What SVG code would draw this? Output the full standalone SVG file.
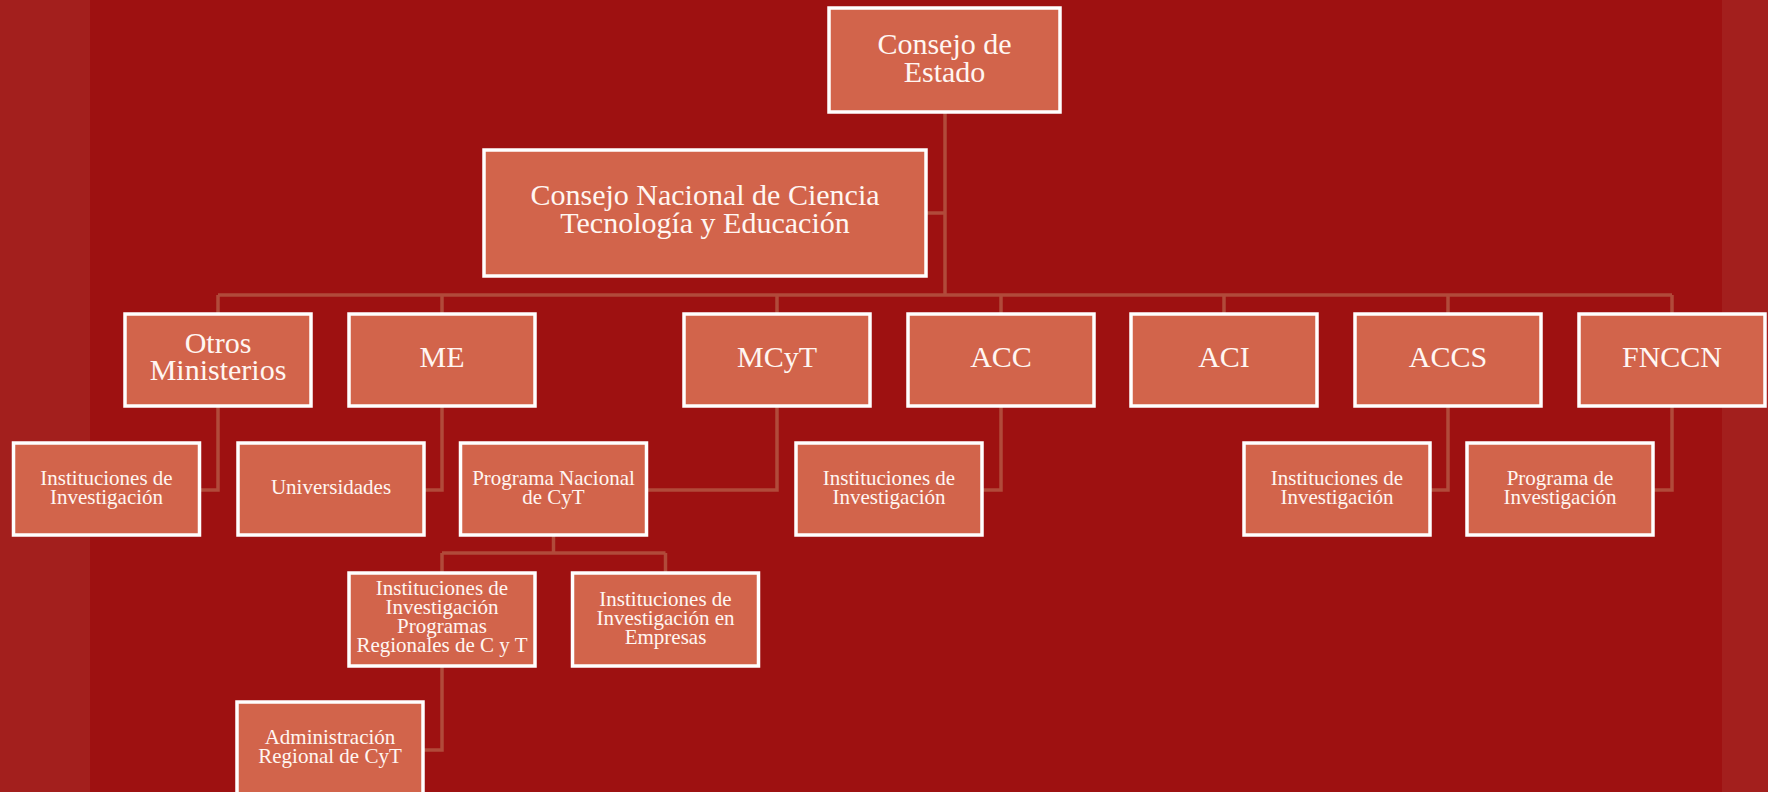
<svg xmlns="http://www.w3.org/2000/svg" width="1768" height="792" viewBox="0 0 1768 792">
<style>
.box{fill:#D2644B;stroke:#FFFFFF;stroke-width:3.5}
.t{font-family:"Liberation Serif","DejaVu Serif",serif;fill:#FFF6F2;text-anchor:middle}
.big{font-size:30px}
.sm{font-size:21px}
.c{fill:none;stroke:#B14A3A;stroke-width:3.5}
</style>
<rect x="0" y="0" width="1768" height="792" fill="#9E1111"/>
<rect x="0" y="0" width="90" height="792" fill="#A31F1D"/>
<rect x="1722" y="0" width="46" height="792" fill="#A31F1D"/>
<g id="connectors">
<path class="c" d="M945,113V295M926,213H945M218,295H1672M218,295V314M442,295V314M777,295V314M1001,295V314M1224,295V314M1448,295V314M1672,295V314"/>
<path class="c" d="M218,406V490H200M442,406V490H424M777,406V490H647M1001,406V490H982M1448,406V490H1430M1672,406V490H1653"/>
<path class="c" d="M553.5,536V553M442,553H665.5M442,553V573M665.5,553V573M442,666V750H423"/>
</g>
<g id="n-consejo-estado"><rect class="box" x="829" y="8" width="231" height="104"/><text class="t big" x="944.5" y="54">Consejo de</text><text class="t big" x="944.5" y="82">Estado</text></g>
<g id="n-cnct"><rect class="box" x="484" y="150" width="442" height="126"/><text class="t big" x="705" y="205">Consejo Nacional de Ciencia</text><text class="t big" x="705" y="233">Tecnología y Educación</text></g>
<g id="n-otros"><rect class="box" x="125" y="314" width="186" height="92"/><text class="t big" x="218" y="353">Otros</text><text class="t big" x="218" y="380">Ministerios</text></g>
<g id="n-me"><rect class="box" x="349" y="314" width="186" height="92"/><text class="t big" x="442" y="367">ME</text></g>
<g id="n-mcyt"><rect class="box" x="684" y="314" width="186" height="92"/><text class="t big" x="777" y="367">MCyT</text></g>
<g id="n-acc"><rect class="box" x="908" y="314" width="186" height="92"/><text class="t big" x="1001" y="367">ACC</text></g>
<g id="n-aci"><rect class="box" x="1131" y="314" width="186" height="92"/><text class="t big" x="1224" y="367">ACI</text></g>
<g id="n-accs"><rect class="box" x="1355" y="314" width="186" height="92"/><text class="t big" x="1448" y="367">ACCS</text></g>
<g id="n-fnccn"><rect class="box" x="1579" y="314" width="186" height="92"/><text class="t big" x="1672" y="367">FNCCN</text></g>
<g id="n-inst-otros"><rect class="box" x="13.5" y="443" width="186" height="92"/><text class="t sm" x="106.5" y="485">Instituciones de</text><text class="t sm" x="106.5" y="504">Investigación</text></g>
<g id="n-univ"><rect class="box" x="238" y="443" width="186" height="92"/><text class="t sm" x="331" y="494">Universidades</text></g>
<g id="n-pncyt"><rect class="box" x="460.5" y="443" width="186" height="92"/><text class="t sm" x="553.5" y="485">Programa Nacional</text><text class="t sm" x="553.5" y="504">de CyT</text></g>
<g id="n-inst-acc"><rect class="box" x="796" y="443" width="186" height="92"/><text class="t sm" x="889" y="485">Instituciones de</text><text class="t sm" x="889" y="504">Investigación</text></g>
<g id="n-inst-accs"><rect class="box" x="1244" y="443" width="186" height="92"/><text class="t sm" x="1337" y="485">Instituciones de</text><text class="t sm" x="1337" y="504">Investigación</text></g>
<g id="n-prog-inv"><rect class="box" x="1467" y="443" width="186" height="92"/><text class="t sm" x="1560" y="485">Programa de</text><text class="t sm" x="1560" y="504">Investigación</text></g>
<g id="n-inst-reg"><rect class="box" x="349" y="573" width="186" height="93"/><text class="t sm" x="442" y="595">Instituciones de</text><text class="t sm" x="442" y="614">Investigación</text><text class="t sm" x="442" y="633">Programas</text><text class="t sm" x="442" y="652">Regionales de C y T</text></g>
<g id="n-inst-emp"><rect class="box" x="572.5" y="573" width="186" height="93"/><text class="t sm" x="665.5" y="606">Instituciones de</text><text class="t sm" x="665.5" y="625">Investigación en</text><text class="t sm" x="665.5" y="644">Empresas</text></g>
<g id="n-admin"><rect class="box" x="237" y="702" width="186" height="93"/><text class="t sm" x="330" y="744">Administración</text><text class="t sm" x="330" y="763">Regional de CyT</text></g>
</svg>
